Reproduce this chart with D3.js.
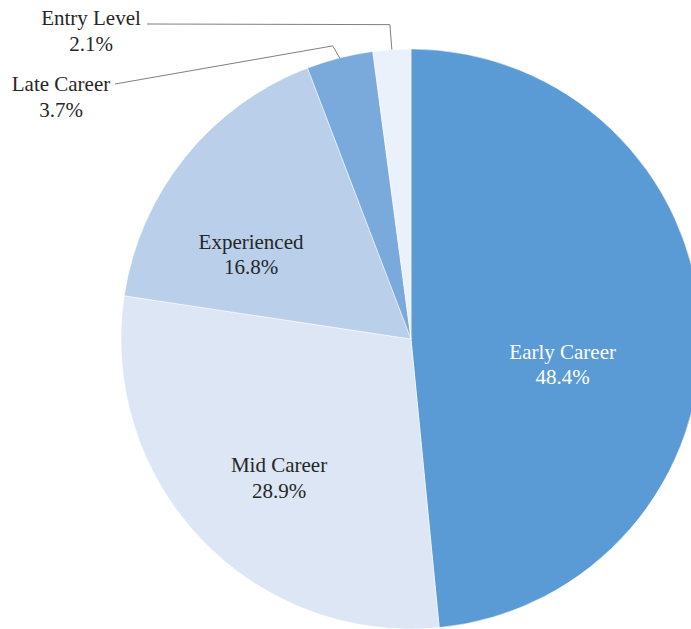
<!DOCTYPE html>
<html>
<head>
<meta charset="utf-8">
<script src="https://cdn.jsdelivr.net/npm/d3@7"></script>
<style>
  html, body { margin: 0; padding: 0; background: #ffffff; }
  svg { display: block; }
</style>
</head>
<body>
<svg id="chart" width="691" height="629"></svg>
<script>
// ---- Data ----
const categories = ["Early Career", "Mid Career", "Experienced", "Late Career", "Entry Level"];
const values = [48.4, 28.9, 16.8, 3.7, 2.1];
const valueLabels = ["48.4%", "28.9%", "16.8%", "3.7%", "2.1%"];
const colors = ["#5b9bd5", "#dce6f4", "#bacfea", "#7aaadc", "#eaf1fa"];

// ---- Layout (not data) ----
const W = 691, H = 629;
const cx = 411, cy = 339, R = 290;
const fontSize = 21;
const lineGap = 25.5;
const fontFamily = "'Liberation Serif', 'DejaVu Serif', 'Times New Roman', serif";
const labelLayout = {
  "Early Career": { inside: true, angle: 100, r: 154, color: "#ffffff" },
  "Mid Career":   { inside: true, angle: 223.3, r: 192.4, color: "#262626" },
  "Experienced":  { inside: true, angle: 297.6, r: 180.5, color: "#262626" },
  "Late Career":  { inside: false, x: 61, y: 91, color: "#262626", elbow: [-7, -12], lineStart: [115, 84] },
  "Entry Level":  { inside: false, x: 91, y: 25, color: "#262626", elbow: [-2, -25], lineStart: [147, 24] }
};

const svg = d3.select("#chart");
const g = svg.append("g").attr("transform", `translate(${cx},${cy})`);

const pie = d3.pie().sort(null).value(d => d.value);
const data = categories.map((c, i) => ({ name: c, value: values[i], label: valueLabels[i], color: colors[i] }));
const arcs = pie(data);
const arc = d3.arc().innerRadius(0).outerRadius(R);

g.selectAll("path.slice")
  .data(arcs)
  .enter().append("path")
  .attr("class", "slice")
  .attr("d", arc)
  .attr("fill", d => d.data.color)
  .attr("stroke", "#ffffff")
  .attr("stroke-width", 0.5);

arcs.forEach(a => {
  const L = labelLayout[a.data.name];
  const t = svg.append("text")
    .attr("text-anchor", "middle")
    .attr("fill", L.color)
    .attr("font-family", fontFamily)
    .attr("font-size", fontSize);
  if (L.inside) {
    const ang = L.angle * Math.PI / 180;
    const x = cx + L.r * Math.sin(ang);
    const y = cy - L.r * Math.cos(ang);
    t.append("tspan").attr("x", x).attr("y", y - lineGap / 2 + 6).text(a.data.name);
    t.append("tspan").attr("x", x).attr("y", y + lineGap / 2 + 6).text(a.data.label);
  } else {
    t.append("tspan").attr("x", L.x).attr("y", L.y).text(a.data.name);
    t.append("tspan").attr("x", L.x).attr("y", L.y + lineGap + 0.5).text(a.data.label);
    const mid = (a.startAngle + a.endAngle) / 2;
    const ex = cx + R * Math.sin(mid), ey = cy - R * Math.cos(mid);
    const bx = ex + L.elbow[0], by = ey + L.elbow[1];
    svg.append("polyline")
      .attr("points", `${L.lineStart[0]},${L.lineStart[1]} ${bx},${by} ${ex},${ey}`)
      .attr("fill", "none")
      .attr("stroke", "#7f7f7f")
      .attr("stroke-width", 1);
  }
});
</script>
</body>
</html>
